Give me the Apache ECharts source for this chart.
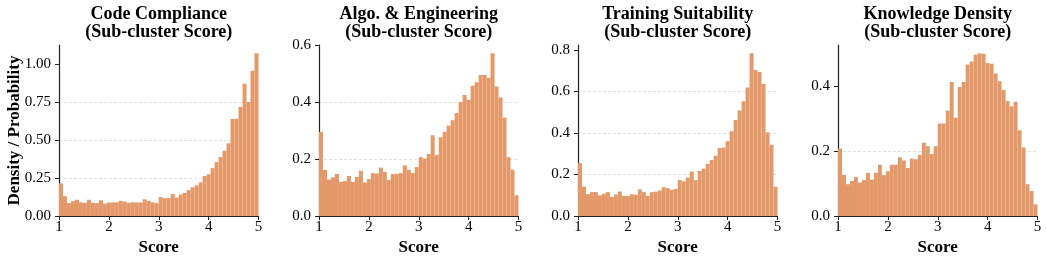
<!DOCTYPE html>
<html>
<head>
<meta charset="utf-8">
<script src="https://cdn.jsdelivr.net/npm/echarts@6/dist/echarts.min.js"></script>
<style>
html,body{margin:0;padding:0;background:#fff;}
#chart{width:1047px;height:262px;}
</style>
</head>
<body>
<div id="chart"></div>
<script>
// ---- data ----
const titles = [
  "Code Compliance\n(Sub-cluster Score)",
  "Algo. & Engineering\n(Sub-cluster Score)",
  "Training Suitability\n(Sub-cluster Score)",
  "Knowledge Density\n(Sub-cluster Score)"
];
const binStart = 1;
const binWidth = 0.08;
const xTicks = [1, 2, 3, 4, 5];

const codeCompliance = [
  0.215,0.13,0.085,0.098,0.107,0.09,0.087,0.107,0.087,0.085,
  0.104,0.082,0.089,0.09,0.09,0.1,0.095,0.087,0.09,0.09,
  0.089,0.11,0.1,0.09,0.085,0.125,0.118,0.118,0.145,0.122,
  0.142,0.153,0.171,0.189,0.202,0.222,0.264,0.275,0.316,0.356,
  0.389,0.431,0.48,0.64,0.642,0.72,0.873,0.753,0.958,1.075
];
const algoEngineering = [
  0.296,0.162,0.128,0.136,0.148,0.12,0.123,0.141,0.12,0.137,
  0.159,0.118,0.13,0.151,0.149,0.17,0.155,0.127,0.148,0.148,
  0.151,0.178,0.163,0.151,0.172,0.207,0.202,0.218,0.284,0.215,
  0.277,0.296,0.318,0.337,0.362,0.401,0.426,0.409,0.458,0.471,
  0.496,0.496,0.486,0.573,0.456,0.417,0.346,0.207,0.163,0.073
];
const trainingSuitability = [
  0.254,0.141,0.105,0.115,0.115,0.099,0.107,0.115,0.092,0.104,
  0.118,0.097,0.096,0.105,0.102,0.128,0.115,0.097,0.115,0.117,
  0.123,0.139,0.134,0.126,0.13,0.173,0.167,0.185,0.214,0.173,
  0.217,0.228,0.251,0.27,0.29,0.327,0.33,0.36,0.408,0.462,
  0.508,0.552,0.619,0.784,0.703,0.693,0.636,0.403,0.343,0.141
];
const knowledgeDensity = [
  0.208,0.127,0.098,0.108,0.12,0.103,0.111,0.133,0.112,0.133,
  0.158,0.126,0.138,0.158,0.158,0.181,0.171,0.148,0.177,0.175,
  0.188,0.226,0.215,0.191,0.215,0.285,0.285,0.325,0.413,0.303,
  0.398,0.413,0.467,0.476,0.497,0.502,0.5,0.472,0.469,0.439,
  0.415,0.388,0.354,0.338,0.352,0.264,0.211,0.098,0.077,0.036
];
const seriesValues = [codeCompliance, algoEngineering, trainingSuitability, knowledgeDensity];

const yTicks1 = [0, 0.25, 0.5, 0.75, 1.0];
const yTicks2 = [0, 0.2, 0.4, 0.6];
const yTicks3 = [0, 0.2, 0.4, 0.6, 0.8];
const yTicks4 = [0, 0.2, 0.4];
const yTickSets = [yTicks1, yTicks2, yTicks3, yTicks4];
const yDecimals = [2, 1, 1, 1];

// ---- layout ----
const FONT = "'Liberation Serif', 'DejaVu Serif', serif";
const gridLefts = [59, 319, 578, 838];
const gridWidth = 199.5;
const gridTop = 45;
const gridHeight = 171;
const barColor = '#E4996A';
const axisColor = '#222';

const grids = [], xAxes = [], yAxes = [], series = [], titleArr = [];
for (let k = 0; k < 4; k++) {
  const vals = seriesValues[k];
  const maxV = Math.max.apply(null, vals) * 1.05;
  const ticks = yTickSets[k];
  const step = ticks[1] - ticks[0];
  grids.push({left: gridLefts[k], top: gridTop, width: gridWidth, height: gridHeight});
  titleArr.push({
    text: titles[k],
    left: gridLefts[k] + gridWidth / 2,
    top: 5,
    padding: 0,
    textAlign: 'center',
    textStyle: {fontFamily: FONT, fontWeight: 'bold', fontSize: 18, lineHeight: 18, color: '#000'}
  });
  xAxes.push({
    gridIndex: k, type: 'value', min: xTicks[0], max: xTicks[xTicks.length - 1], interval: 1,
    name: 'Score', nameLocation: 'middle', nameGap: 23, nameMoveOverlap: false,
    nameTextStyle: {fontFamily: FONT, fontWeight: 'bold', fontSize: 17, color: '#000'},
    axisLine: {show: true, lineStyle: {color: axisColor, width: 1.2}},
    axisTick: {show: true, length: 4, lineStyle: {color: axisColor, width: 1}},
    axisLabel: {fontFamily: FONT, fontSize: 15, color: '#000', margin: 4},
    splitLine: {show: false}
  });
  yAxes.push({
    gridIndex: k, type: 'value', min: 0, max: maxV, interval: step,
    name: k === 0 ? 'Density / Probability' : '',
    nameLocation: 'middle', nameGap: 36, nameRotate: 90, nameMoveOverlap: false,
    nameTextStyle: {fontFamily: FONT, fontWeight: 'bold', fontSize: 17, color: '#000'},
    axisLine: {show: true, lineStyle: {color: axisColor, width: 1.2}},
    axisTick: {show: true, length: 4, lineStyle: {color: axisColor, width: 1}, customValues: ticks},
    axisLabel: {
      fontFamily: FONT, fontSize: 15, color: '#000', margin: 8, customValues: ticks,
      formatter: (v) => Number(v).toFixed(yDecimals[k])
    },
    splitLine: {show: true, showMinLine: false, showMaxLine: false,
      lineStyle: {color: '#d9d9d9', type: [3, 2], width: 0.8}}
  });
  const data = vals.map((v, i) => [binStart + i * binWidth, binStart + (i + 1) * binWidth, v]);
  series.push({
    type: 'custom', xAxisIndex: k, yAxisIndex: k, data: data,
    encode: {x: [0, 1], y: 2},
    renderItem: function (params, api) {
      const p0 = api.coord([api.value(0), api.value(2)]);
      const p1 = api.coord([api.value(1), 0]);
      return {
        type: 'rect',
        shape: {x: p0[0], y: p0[1], width: p1[0] - p0[0], height: p1[1] - p0[1]},
        style: {fill: barColor}
      };
    },
    z: 1
  });
}

const chart = echarts.init(document.getElementById('chart'), null, {renderer: 'canvas'});
chart.setOption({
  animation: false,
  backgroundColor: '#fff',
  title: titleArr,
  grid: grids,
  xAxis: xAxes,
  yAxis: yAxes,
  series: series
});
</script>
</body>
</html>
